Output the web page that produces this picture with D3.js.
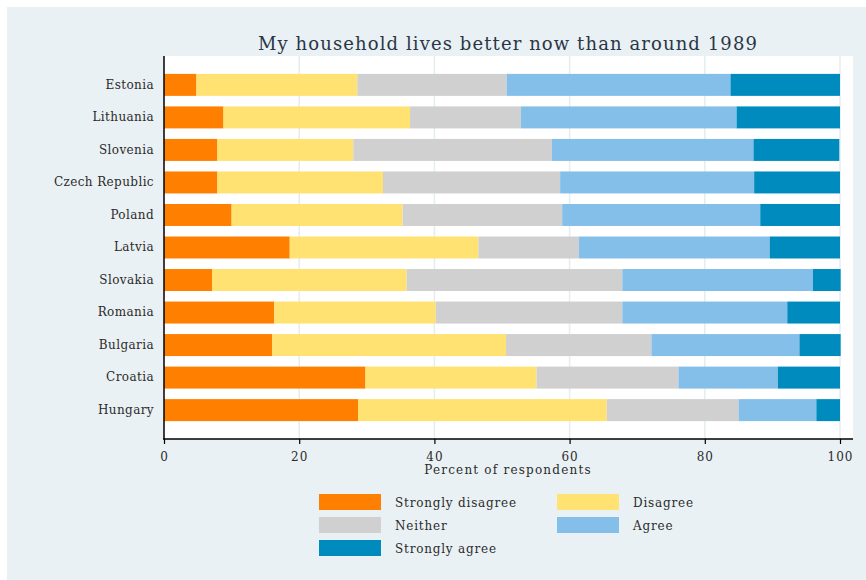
<!DOCTYPE html>
<html>
<head>
<meta charset="utf-8">
<script src="https://cdn.jsdelivr.net/npm/d3@7"></script>
<style>
  html, body { margin: 0; padding: 0; background: #ffffff; }
  svg { display: block; }
  text { font-family: "DejaVu Serif", "Liberation Serif", serif; }
</style>
</head>
<body>
<svg id="chart" width="866" height="580"></svg>
<script>
// Survey: "My household lives better now than around 1989" (percent of respondents)
const countries = ["Estonia", "Lithuania", "Slovenia", "Czech Republic", "Poland", "Latvia",
                   "Slovakia", "Romania", "Bulgaria", "Croatia", "Hungary"];
const responses = ["Strongly disagree", "Disagree", "Neither", "Agree", "Strongly agree"];

const stronglyDisagree = [4.8, 8.8, 7.9, 7.9, 10.0, 18.6, 7.1, 16.3, 16.0, 29.8, 28.7];
const disagree         = [23.8, 27.6, 20.1, 24.5, 25.3, 27.9, 28.8, 23.9, 34.6, 25.3, 36.8];
const neither          = [22.1, 16.4, 29.4, 26.2, 23.6, 14.9, 31.9, 27.6, 21.5, 21.0, 19.5];
const agree            = [33.1, 31.9, 29.8, 28.7, 29.3, 28.2, 28.2, 24.4, 21.9, 14.7, 11.5];
const stronglyAgree    = [16.2, 15.3, 12.7, 12.7, 11.8, 10.4, 4.1, 7.8, 6.1, 9.2, 3.5];

const xTicks = [0, 20, 40, 60, 80, 100];

const colors = ["#ff8000", "#ffe271", "#d0d0d0", "#84bfea", "#008bbe"];

const seriesValues = [stronglyDisagree, disagree, neither, agree, stronglyAgree];
const rows = countries.map((c, i) => {
  const r = { country: c };
  responses.forEach((k, j) => { r[k] = seriesValues[j][i]; });
  return r;
});

const svg = d3.select("#chart");
const W = 866, H = 580;
const textColor = "#2b2b2b";

// outer light panel
svg.append("rect").attr("x", 7).attr("y", 7).attr("width", W - 7).attr("height", H - 7)
  .attr("fill", "#e9f1f4");

const plot = { left: 164, right: 853, top: 56, bottom: 439 };

// white plot region
svg.append("rect")
  .attr("x", plot.left).attr("y", plot.top)
  .attr("width", plot.right - plot.left).attr("height", plot.bottom - plot.top)
  .attr("fill", "#ffffff");

const x = d3.scaleLinear().domain([0, 100]).range([plot.left, 840]);
const y = d3.scaleBand().domain(countries).range([plot.top, plot.bottom])
  .paddingInner(0.324).paddingOuter(0.55);

// vertical gridlines
svg.append("g").selectAll("line").data(xTicks.filter(d => d > 0)).join("line")
  .attr("x1", d => x(d)).attr("x2", d => x(d))
  .attr("y1", plot.top).attr("y2", plot.bottom)
  .attr("stroke", "#e4edf1").attr("stroke-width", 1.5);

// stacked bars
const stacked = d3.stack().keys(responses)(rows);
svg.append("g").selectAll("g").data(stacked).join("g")
  .attr("fill", (d, i) => colors[i])
  .selectAll("rect").data(d => d).join("rect")
  .attr("x", d => x(d[0]))
  .attr("width", d => x(d[1]) - x(d[0]))
  .attr("y", d => y(d.data.country))
  .attr("height", y.bandwidth());

// x axis
const xAxis = d3.axisBottom(x).tickValues(xTicks).tickSize(5).tickPadding(8);
const gx = svg.append("g").attr("transform", `translate(0,${plot.bottom})`).call(xAxis);
gx.select(".domain").remove();
gx.selectAll(".tick line").attr("stroke", "#000").attr("stroke-width", 1.2);
gx.selectAll(".tick text").attr("font-size", 12).attr("fill", textColor)
  .attr("letter-spacing", 1)
  .attr("font-family", "DejaVu Serif, serif");
svg.append("line").attr("x1", plot.left - 1).attr("x2", plot.right)
  .attr("y1", plot.bottom).attr("y2", plot.bottom)
  .attr("stroke", "#000").attr("stroke-width", 1.5);

// y axis
const yAxis = d3.axisLeft(y).tickSize(0).tickPadding(10);
const gy = svg.append("g").attr("transform", `translate(${plot.left},0)`).call(yAxis);
gy.select(".domain").remove();
gy.selectAll(".tick text").attr("font-size", 12).attr("fill", textColor)
  .attr("letter-spacing", 0.4)
  .attr("font-family", "DejaVu Serif, serif");
svg.append("line").attr("x1", plot.left).attr("x2", plot.left)
  .attr("y1", plot.top).attr("y2", plot.bottom)
  .attr("stroke", "#000").attr("stroke-width", 1.5);

// titles
svg.append("text").attr("x", 508).attr("y", 50).attr("text-anchor", "middle")
  .attr("font-size", 18).attr("fill", "#2a3646").attr("letter-spacing", 1.1)
  .text("My household lives better now than around 1989");
svg.append("text").attr("x", 508).attr("y", 474).attr("text-anchor", "middle")
  .attr("font-size", 12).attr("fill", textColor).attr("letter-spacing", 1.2)
  .text("Percent of respondents");

// legend
const legend = svg.append("g");
const legendItems = responses.map((r, i) => ({ label: r, color: colors[i], col: i % 2, row: Math.floor(i / 2) }));
const colX = [319, 557];
const rowY = [494, 517, 540];
const item = legend.selectAll("g").data(legendItems).join("g")
  .attr("transform", d => `translate(${colX[d.col]},${rowY[d.row]})`);
item.append("rect").attr("width", 62).attr("height", 16).attr("fill", d => d.color);
item.append("text").attr("x", 76).attr("y", 12.5).attr("font-size", 12).attr("fill", textColor)
  .attr("letter-spacing", 0.8)
  .text(d => d.label);
</script>
</body>
</html>
